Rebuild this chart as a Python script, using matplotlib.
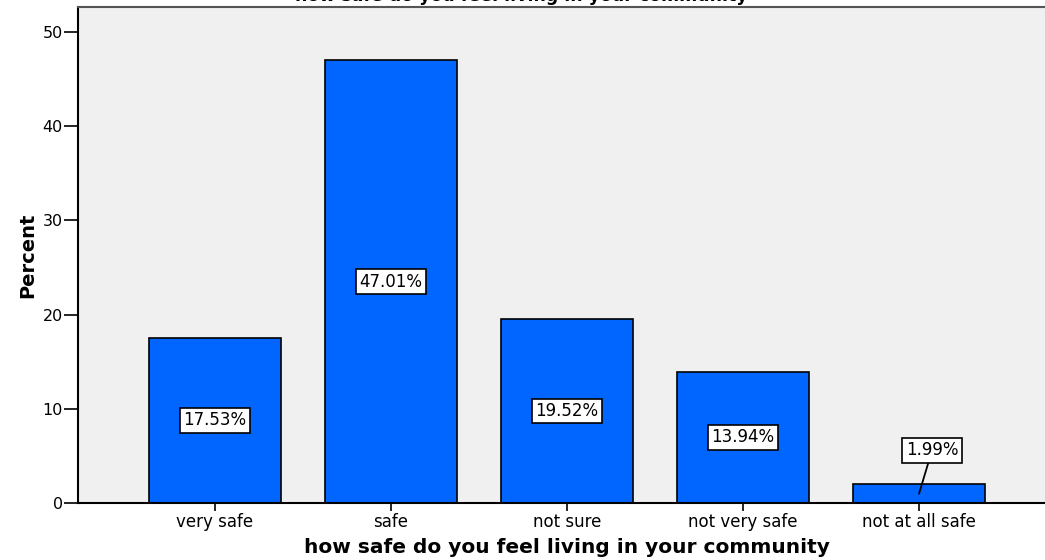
import numpy as np
import matplotlib
matplotlib.use("Agg")
import matplotlib.pyplot as plt

plt.rcParams['font.family'] = ['DejaVu Sans']

categories = ["very safe", "safe", "not sure", "not very safe", "not at all safe"]
percent = [17.53, 47.01, 19.52, 13.94, 1.99]
yticks = [0, 10, 20, 30, 40, 50]

fig = plt.figure(figsize=(10.45, 5.6), dpi=100)
W, H = 1045.0, 560.0
# axes box in pixels: left 78, right 1056 (runs past the edge), top 7, bottom 503
ax = fig.add_axes([78 / W, 1 - 503 / H, (1056 - 78) / W, (503 - 7) / H])
ax.set_facecolor("#f0f0f0")

x = np.arange(len(categories))
ax.bar(x, percent, width=0.75, color="#0066ff", edgecolor="black", linewidth=1.2, zorder=2)

ax.set_xlim(-0.778, len(categories) - 1 + 0.778)
ax.set_ylim(0, 52.65)
ax.set_yticks(yticks)
ax.set_xticks(x)
ax.set_xticklabels(categories, fontsize=12)
ax.tick_params(axis="y", length=10, width=1.2, labelsize=11.5, pad=1, direction="out")
ax.tick_params(axis="x", length=6, width=1.2, pad=1, direction="out")

for side in ["left", "bottom"]:
    ax.spines[side].set_linewidth(1.5)
ax.spines["top"].set_linewidth(1.5)
ax.spines["top"].set_color("#555555")
ax.spines["right"].set_visible(False)

box = dict(boxstyle="square,pad=0.2", facecolor="white", edgecolor="black", linewidth=1.2)
for xi, v in zip(x, percent):
    label = f"{v:.2f}%"
    if v > 5:
        ax.text(xi, v / 2, label, ha="center", va="center", fontsize=12, bbox=box, zorder=3)
    else:
        ax.annotate(label, xy=(xi, v / 2), xytext=(xi + 0.074, 5.6),
                    ha="center", va="center", fontsize=12, bbox=box, zorder=3,
                    arrowprops=dict(arrowstyle="-", color="black", lw=1.3, shrinkA=0, shrinkB=0))

ax.set_ylabel("Percent", fontsize=14, fontweight="bold", labelpad=4)
ax.set_xlabel("how safe do you feel living in your community", fontsize=14.5,
              fontweight="bold", labelpad=5)

fig.text(521 / W, 1 - 5 / H, "how safe do you feel living in your community",
         ha="center", va="bottom", fontsize=12.5, fontweight="bold")

fig.savefig("out.png", dpi=100)
